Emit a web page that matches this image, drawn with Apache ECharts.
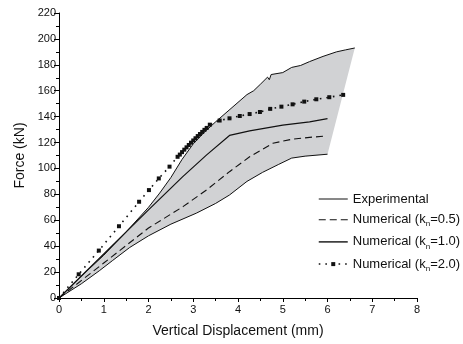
<!DOCTYPE html>
<html><head><meta charset="utf-8">
<script src="https://cdn.jsdelivr.net/npm/echarts@6/dist/echarts.min.js"></script>
<style>html,body{margin:0;padding:0;background:#fff}#c{width:463px;height:344px}</style>
</head><body><div id="c"></div>
<script>
// Experimental envelope (upper and lower bounds)
var dispExpUpper  = [0, 0.5, 1.0, 1.5, 2.0, 2.25, 2.5, 2.75, 3.0, 3.25, 3.5, 3.8, 4.0, 4.2, 4.35, 4.5, 4.66, 4.70, 4.74, 5.0, 5.2, 5.4, 5.6, 5.9, 6.2, 6.4, 6.61];
var forceExpUpper = [0, 17, 33, 51, 70, 81, 93, 107, 119, 128, 136, 145, 151, 157, 160, 165, 170.5, 168.5, 172.5, 174, 178, 179.5, 182.5, 186.5, 190, 191.5, 193];
var dispExpLower  = [0, 0.5, 0.9, 1.2, 1.58, 2.0, 2.5, 3.07, 3.5, 3.81, 4.2, 4.55, 4.9, 5.2, 5.5, 6.0];
var forceExpLower = [0, 11, 21, 29, 39, 48, 57, 65.5, 73, 79.5, 90, 97, 103, 108, 109.5, 111];
// Numerical kn=0.5
var dispN05  = [0, 1, 2, 2.77, 3.3, 3.81, 4.26, 4.78, 5.2, 5.6, 5.95];
var forceN05 = [0, 27, 54, 70.5, 83.5, 97.5, 109, 119.5, 122.5, 124, 125];
// Numerical kn=1.0
var dispN10  = [0, 1, 2, 2.76, 3.3, 3.81, 4.26, 5.0, 5.6, 6.0];
var forceN10 = [0, 34, 68, 93.5, 110.5, 125.5, 129, 133.5, 136, 138.5];
// Numerical kn=2.0
var dispN20  = [0, 0.44, 0.89, 1.34, 1.79, 2.01, 2.23, 2.47, 2.65, 2.70, 2.75, 2.80, 2.85, 2.90, 2.95, 3.00, 3.05, 3.10, 3.15, 3.20, 3.25, 3.30, 3.37, 3.59, 3.81, 4.04, 4.26, 4.49, 4.72, 4.97, 5.22, 5.48, 5.75, 6.04, 6.35];
var forceN20 = [0, 18.3, 36.6, 55.4, 74.3, 83.3, 92.3, 101.4, 109.0, 110.7, 112.6, 114.5, 116.3, 118.1, 119.9, 121.6, 123.3, 125.0, 126.6, 128.2, 129.8, 131.3, 133.8, 137, 138.7, 140.5, 142, 143.6, 146, 147.7, 149.5, 151.6, 153.4, 155, 156.8];

var seriesNames = ['Experimental', 'Numerical (kn=0.5)', 'Numerical (kn=1.0)', 'Numerical (kn=2.0)'];

function pairs(xs, ys){ return xs.map(function(x,i){ return [x, ys[i]]; }); }

var FONT = 'Liberation Sans';
var hidden = {color: 'rgba(0,0,0,0)', opacity: 0, borderWidth: 0};
var chart = echarts.init(document.getElementById('c'), null, {renderer:'canvas'});
chart.setOption({
  animation: false,
  backgroundColor: '#fff',
  grid: {left: 59, top: 13, width: 358, height: 285, containLabel: false},
  legend: {
    data: [
      {name: seriesNames[0], itemStyle: hidden, lineStyle: {width: 1}},
      {name: seriesNames[1], itemStyle: hidden, lineStyle: {width: 1.1}},
      {name: seriesNames[2], itemStyle: hidden, lineStyle: {width: 1.4}},
      {name: seriesNames[3], lineStyle: {width: 1.5}}
    ],
    orient: 'vertical',
    left: 318, top: 192, padding: 0,
    itemWidth: 29, itemHeight: 5, itemGap: 6.7,
    textStyle: {fontFamily: FONT, fontSize: 13, color: '#111', lineHeight: 14,
      rich: {sub: {fontFamily: FONT, fontSize: 8, color: '#111', padding: [9,0,0,0]}}},
    formatter: function(n){ return n.replace('kn', 'k{sub|n}'); }
  },
  xAxis: {
    type: 'value', min: 0, max: 8, interval: 1,
    name: 'Vertical Displacement (mm)', nameLocation: 'middle', nameGap: 26,
    nameTextStyle: {fontFamily: FONT, fontSize: 14, color: '#111'},
    axisLine: {show: true, onZero: false, lineStyle: {color: '#000', width: 1}},
    axisTick: {show: true, inside: false, length: 4, lineStyle: {color: '#000'}},
    minorTick: {show: true, splitNumber: 2, length: 3, lineStyle: {color: '#000'}},
    axisLabel: {fontFamily: FONT, fontSize: 11, color: '#111', margin: 6},
    splitLine: {show: false}
  },
  yAxis: {
    type: 'value', min: 0, max: 220, interval: 20,
    name: 'Force (kN)', nameLocation: 'middle', nameGap: 27,
    nameTextStyle: {fontFamily: FONT, fontSize: 14, color: '#111'},
    axisLine: {show: true, onZero: false, lineStyle: {color: '#000', width: 1}},
    axisTick: {show: true, inside: false, length: 5, lineStyle: {color: '#000'}},
    minorTick: {show: true, splitNumber: 2, length: 3, lineStyle: {color: '#000'}},
    axisLabel: {fontFamily: FONT, fontSize: 11, color: '#111', margin: 3},
    splitLine: {show: false}
  },
  series: [
    {
      type: 'custom', name: 'band', silent: true, z: 1,
      data: [[0, 0]],
      renderItem: function(params, api){
        if (params.dataIndex !== 0) return null;
        var pts = [];
        for (var i = 0; i < dispExpUpper.length; i++) pts.push(api.coord([dispExpUpper[i], forceExpUpper[i]]));
        for (var j = dispExpLower.length - 1; j >= 0; j--) pts.push(api.coord([dispExpLower[j], forceExpLower[j]]));
        return {type: 'polygon', shape: {points: pts}, style: {fill: '#d1d2d4', stroke: null}};
      }
    },
    {
      type: 'line', name: 'Experimental', z: 2, symbol: 'none',
      data: pairs(dispExpUpper, forceExpUpper),
      lineStyle: {color: '#111', width: 1}, itemStyle: {color: '#111'}
    },
    {
      type: 'line', name: 'Experimental', z: 2, symbol: 'none',
      data: pairs(dispExpLower, forceExpLower),
      lineStyle: {color: '#111', width: 1}, itemStyle: {color: '#111'}
    },
    {
      type: 'line', name: 'Numerical (kn=0.5)', z: 3, symbol: 'none',
      data: pairs(dispN05, forceN05),
      lineStyle: {color: '#111', width: 1.1, type: [7, 4]}, itemStyle: {color: '#111'}
    },
    {
      type: 'line', name: 'Numerical (kn=1.0)', z: 3, symbol: 'none',
      data: pairs(dispN10, forceN10),
      lineStyle: {color: '#111', width: 1.2}, itemStyle: {color: '#111'}
    },
    {
      type: 'line', name: 'Numerical (kn=2.0)', z: 4, symbol: 'rect', symbolSize: 4, showSymbol: true,
      data: pairs(dispN20, forceN20),
      lineStyle: {color: '#111', width: 1.6, type: [1.6, 5]}, itemStyle: {color: '#111'}
    }
  ]
});
</script>
</body></html>
